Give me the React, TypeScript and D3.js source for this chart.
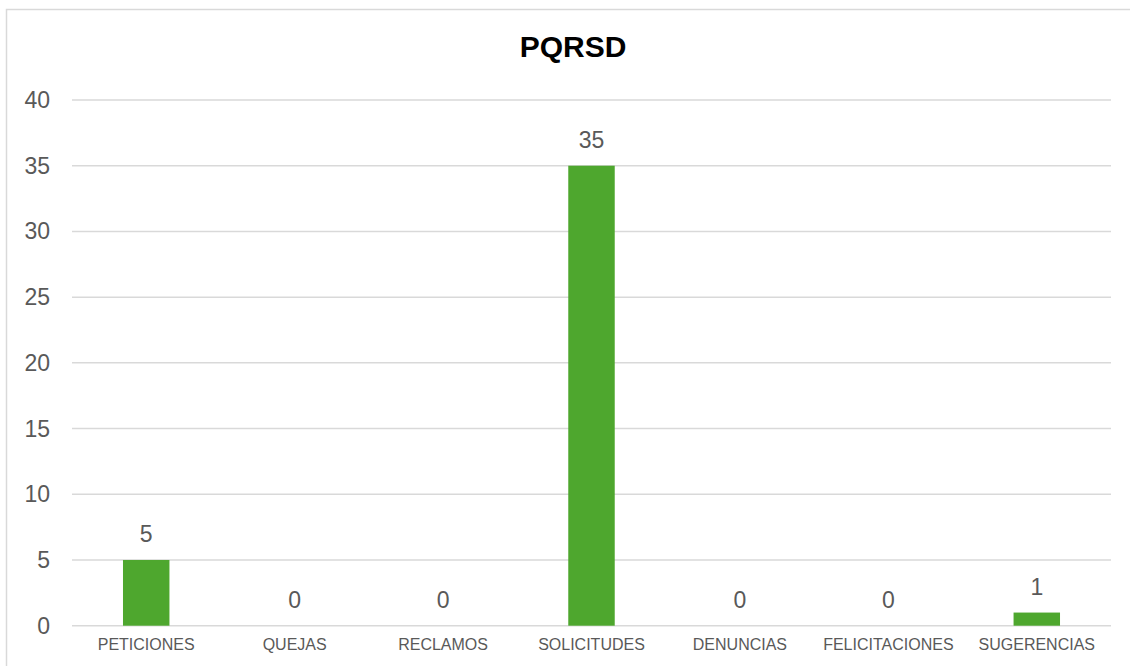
import React from "react";
import * as d3 from "d3";

const categories = ["PETICIONES", "QUEJAS", "RECLAMOS", "SOLICITUDES", "DENUNCIAS", "FELICITACIONES", "SUGERENCIAS"];
const values = [5, 0, 0, 35, 0, 0, 1];
const yTicks = [0, 5, 10, 15, 20, 25, 30, 35, 40];
const title = "PQRSD";

const W = 1130;
const H = 666;
const left = 72;
const right = 1111;
const top = 100;
const bottom = 625.7;
const font = "'Liberation Sans', Arial, sans-serif";
const green = "#4EA72E";
const textGray = "#595959";
const gridGray = "#d9d9d9";

export default function App() {
  const x = d3.scaleBand<string>().domain(categories).range([left, right]).paddingInner(0.687).paddingOuter(0.3435);
  const y = d3.scaleLinear().domain([0, 40]).range([bottom, top]);
  return (
    <svg width={W} height={H} style={{ position: "absolute", left: 0, top: 0, background: "#fff" }}>
      <rect x={6.5} y={9.5} width={W} height={H} fill="#fff" stroke={gridGray} strokeWidth={1.5} />
      <text x={573} y={57} textAnchor="middle" fontFamily={font} fontWeight="bold" fontSize={30} fill="#000">
        {title}
      </text>
      {yTicks.map((t) => (
        <g key={t}>
          <line x1={left} x2={right} y1={y(t)} y2={y(t)} stroke={gridGray} strokeWidth={1.5} />
          <text x={50} y={y(t)} dy="0.35em" textAnchor="end" fontFamily={font} fontSize={23} fill={textGray}>
            {t}
          </text>
        </g>
      ))}
      {categories.map((c, i) => {
        const bx = x(c)!;
        const bw = x.bandwidth();
        const v = values[i];
        return (
          <g key={c}>
            <rect x={bx} y={y(v)} width={bw} height={bottom - y(v)} fill={green} />
            <text x={bx + bw / 2} y={y(v) - 17.5} textAnchor="middle" fontFamily={font} fontSize={23} fill={textGray}>
              {v}
            </text>
            <text x={bx + bw / 2} y={650} textAnchor="middle" fontFamily={font} fontSize={16} fill={textGray}>
              {c}
            </text>
          </g>
        );
      })}
    </svg>
  );
}
